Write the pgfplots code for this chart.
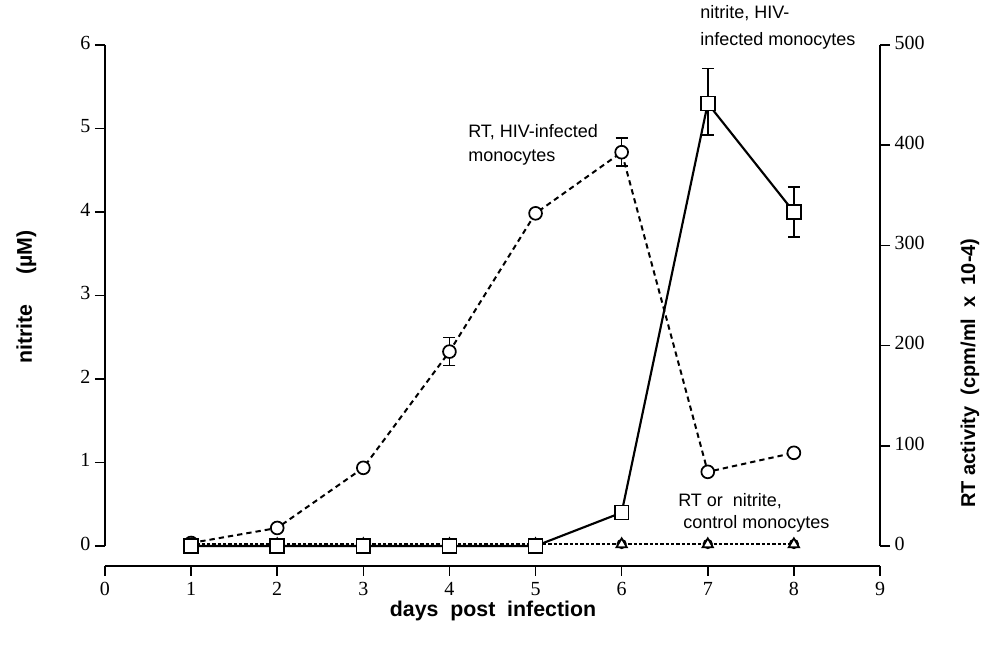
\documentclass[border=0pt]{standalone}
\usepackage{fontspec}
\setmainfont{Liberation Serif}
\newfontfamily\hv{Liberation Sans}
\usepackage{pgfplots}
\pgfplotsset{compat=1.18}
\pgfplotsset{
  base/.style={
    width=581.25pt, height=375.75pt, scale only axis,
    xmin=0, xmax=9, clip=false,
    tick align=outside, major tick length=7.5pt,
    tick style={line width=1.2pt, black},
    axis line style={line width=1.4pt, black},
    tick label style={font=\fontsize{15}{16}\selectfont},
    typeset ticklabels with strut,
    /pgf/number format/assume math mode=true,
  },
  sq/.style={mark=square*, mark size=5.2pt, mark options={fill=white, solid, line width=1.2pt}},
  ci/.style={mark=*, mark size=4.8pt, mark options={fill=white, solid, line width=1.3pt}},
  eb/.style={error bars/.cd, y dir=both, y explicit,
     error bar style={line width=1.2pt, solid},
     error mark options={rotate=90, mark size=4.5pt, line width=1.2pt, solid}},
}
\begin{document}
\begin{tikzpicture}
\path[use as bounding box] (-78.75pt,-74.25pt) rectangle (663pt,409.5pt);
% x axis (offset below)
\begin{axis}[base, at={(0pt,-15pt)}, ymin=0, ymax=6,
  axis y line=none, axis x line*=bottom, xtick={0,...,9}]
\end{axis}
% right axis: RT activity
\begin{axis}[base, ymin=0, ymax=500, ytick={0,100,...,500},
  axis x line=none, axis y line*=right]
\addplot[black, line width=1.4pt, dash pattern=on 2.5pt off 1.5pt, mark=*, mark size=3.2pt, mark options={fill=white, solid, line width=1.2pt}]
  coordinates {(1,2)(2,2)(3,2)(4,2)(5,2)(6,2)(7,2)(8,2)};
\addplot[black, line width=1.5pt, dash pattern=on 4pt off 3pt, ci, eb]
  table[y error plus=ep, y error minus=em] {
  x y ep em
  1 3 0 0
  2 18 0 0
  3 78 0 0
  4 194 14 14
  5 332 0 0
  6 393 14 14
  7 74 0 0
  8 93 0 0
  };
\end{axis}
% left axis: nitrite
\begin{axis}[base, ymin=0, ymax=6, ytick={0,...,6},
  axis x line=none, axis y line*=left]
\addplot[black, line width=1.3pt, dash pattern=on 2.5pt off 1.5pt, mark=triangle*, mark size=4.5pt, mark options={fill=white, solid, line width=1.3pt}]
  coordinates {(1,0.02)(2,0.02)(3,0.02)(4,0.02)(5,0.02)(6,0.02)(7,0.02)(8,0.02)};
\addplot[black, line width=1.6pt, sq, eb]
  table[y error plus=ep, y error minus=em] {
  x y ep em
  1 0 0 0
  2 0 0 0
  3 0 0 0
  4 0 0 0
  5 0 0 0
  6 0.4 0 0
  7 5.3 0.42 0.38
  8 4.0 0.3 0.3
  };
\end{axis}
% axis labels
\node[rotate=90, font=\hv\bfseries\fontsize{16}{18}\selectfont] at (-59pt,186.75pt) {nitrite\hspace{1.4em}(µM)};
\node[rotate=90, font=\hv\bfseries\fontsize{15}{17}\selectfont] at (648.75pt,129.75pt) {RT activity\ \ (cpm/ml\ \ x\ \ 10-4)};
\node[font=\hv\bfseries\fontsize{16}{18}\selectfont] at (291pt,-49pt) {days\ \ post\ \ infection};
% annotations
\begin{scope}[every node/.style={font=\hv\fontsize{13.5}{15}\selectfont, anchor=base west, inner sep=0pt}]
\node at (446.25pt,395.25pt) {nitrite, HIV-};
\node at (446.25pt,375pt) {infected monocytes};
\node at (272.25pt,306pt) {RT, HIV-infected};
\node at (272.25pt,288pt) {monocytes};
\node at (429.75pt,29.25pt) {RT or\ \ nitrite,};
\node at (433.5pt,12.75pt) {control monocytes};
\end{scope}
\end{tikzpicture}
\end{document}
